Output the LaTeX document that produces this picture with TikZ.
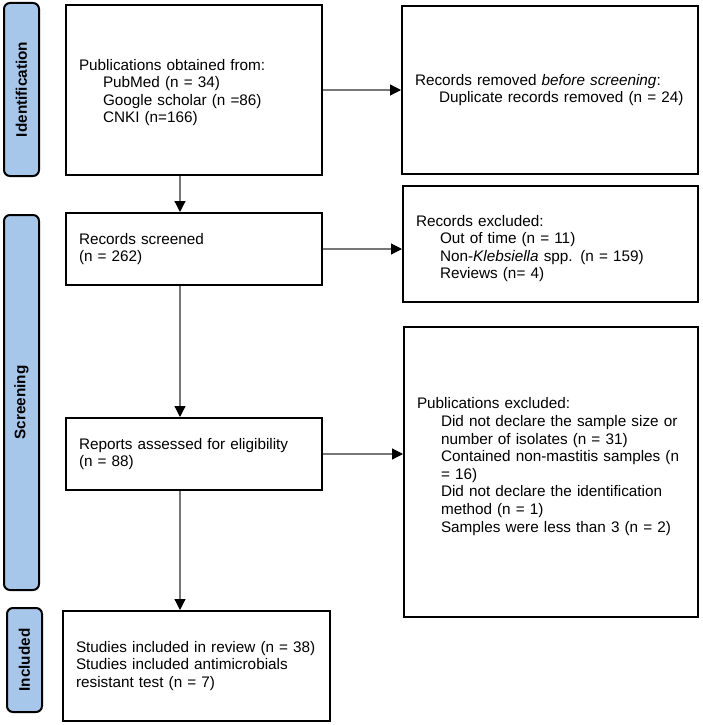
\documentclass[tikz,border=0pt]{standalone}
\usepackage{fontspec}
\setmainfont{Liberation Sans}
\usetikzlibrary{arrows.meta}
\definecolor{tabblue}{HTML}{A7C7EA}
\definecolor{linegray}{HTML}{777777}
\newcommand{\ind}{\hspace*{24pt}}
\begin{document}
\begin{tikzpicture}[x=1pt,y=-1pt,
  every node/.style={font=\fontsize{15.3}{17.6}\selectfont},
  box/.style={draw=black, line width=2pt, rectangle, inner xsep=13pt, inner ysep=4pt, align=left},
  tabbox/.style={draw=black, line width=2pt, fill=tabblue, rounded corners=6pt, rotate=90, inner sep=0pt,
     font=\fontsize{15.3}{17}\selectfont\bfseries},
  conn/.style={draw=linegray, line width=1.2pt, -{Triangle[length=11pt,width=11pt,color=black]}}
]
\useasboundingbox (0,0) rectangle (702,725);

% phase tabs
\node[tabbox, minimum width=173pt, minimum height=35pt] (tid) at (21.5,89.5) {Identification};
\node[tabbox, minimum width=375pt, minimum height=35pt] (tsc) at (21.5,402.5) {Screening};
\node[tabbox, minimum width=104pt, minimum height=35pt] (tin) at (24.5,660) {Included};

% left column
\node[box, text width=230pt, minimum height=170pt] (b1) at (194,90) {\rule{0pt}{16pt}Publications obtained from:\\
\ind PubMed (n = 34)\\
\ind Google scholar (n =86)\\
\ind CNKI (n=166)};
\node[box, text width=230pt, minimum height=72pt] (b2) at (194,249) {Records screened\\(n = 262)};
\node[box, text width=230pt, minimum height=72pt] (b3) at (194,454) {Reports assessed for eligibility\\(n = 88)};
\node[box, text width=241pt, minimum height=110pt] (b4) at (196.5,666) {Studies included in review (n = 38)\\
Studies included antimicrobials\\
resistant test (n = 7)};

% right column
\node[box, text width=270pt, minimum height=168pt] (r1) at (550,90) {Records removed \emph{before screening}:\\
\ind Duplicate records removed (n = 24)};
\node[box, text width=269pt, minimum height=116pt] (r2) at (550.5,244) {\rule{0pt}{20pt}Records excluded:\\
\ind Out of time (n = 11)\\
\ind Non-\emph{Klebsiella} spp. (n = 159)\\
\ind Reviews (n= 4)};
\node[box, text width=268pt, minimum height=290pt] (r3) at (551,472) {Publications excluded:\\
\ind Did not declare the sample size or\\
\ind number of isolates (n = 31)\\
\ind Contained non-mastitis samples (n\\
\ind = 16)\\
\ind Did not declare the identification\\
\ind method (n = 1)\\
\ind Samples were less than 3 (n = 2)\rule[-14pt]{0pt}{14pt}};

% connectors
\coordinate (ax) at (180,0);
\draw[conn] (b1.south -| ax) -- (b2.north -| ax);
\draw[conn] (b2.south -| ax) -- (b3.north -| ax);
\draw[conn] (b3.south -| ax) -- (b4.north -| ax);
\draw[conn] (b1.east) -- (b1.east -| r1.west);
\draw[conn] (b2.east |- 0,249) -- (r2.west |- 0,249);
\draw[conn] (b3.east) -- (b3.east -| r3.west);
\end{tikzpicture}
\end{document}
